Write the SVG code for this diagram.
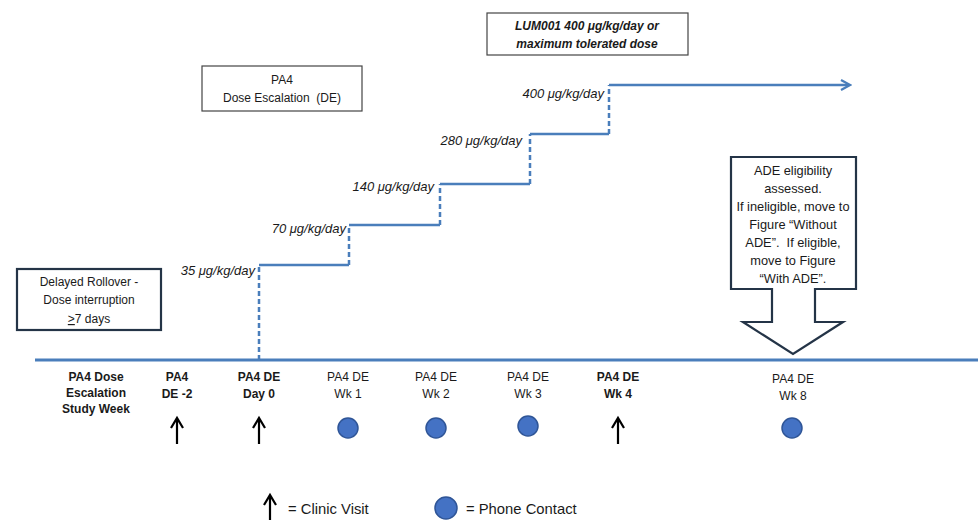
<svg xmlns="http://www.w3.org/2000/svg" width="978" height="523" viewBox="0 0 978 523">
<defs>
<style>
text{font-family:"Liberation Sans",Arial,sans-serif;fill:#1a1a1a;text-anchor:middle}
.t{font-size:12px}
.a{font-size:12.8px}
.b{font-weight:bold}
.dose{font-size:13px;font-style:italic;text-anchor:end}
.box{fill:#fff;stroke:#444;stroke-width:1.2}
.boxd{fill:#fff;stroke:#243447;stroke-width:2.2}
.step{fill:none;stroke:#4a7ebb;stroke-width:2.5}
.dash{fill:none;stroke:#4a7ebb;stroke-width:2.5;stroke-dasharray:5,3}
.dot{fill:#4472c4;stroke:#2f5597;stroke-width:1.5}
.clin{fill:none;stroke:#000;stroke-width:2.2}
.leg{font-size:14.8px;text-anchor:start}
</style>
<marker id="ah" markerWidth="12" markerHeight="12" refX="9" refY="6" orient="auto" markerUnits="userSpaceOnUse">
<path d="M1,1 L10,6 L1,11" fill="none" stroke="#4a7ebb" stroke-width="2.2"/>
</marker>
</defs>

<g id="connectors">
<line x1="35" y1="360" x2="978" y2="360" stroke="#4a7ebb" stroke-width="3"/>
<path class="dash" d="M259,360 V265"/>
<path class="step" d="M259,265 H349"/>
<path class="dash" d="M349,265 V225"/>
<path class="step" d="M349,225 H440"/>
<path class="dash" d="M440,225 V184"/>
<path class="step" d="M440,184 H530"/>
<path class="dash" d="M530,184 V134"/>
<path class="step" d="M530,134 H609"/>
<path class="dash" d="M609,134 V85"/>
<path class="step" d="M609,85 H849" marker-end="url(#ah)"/>
</g>

<g id="dose-labels">
<text class="dose" x="255" y="275">35 μg/kg/day</text>
<text class="dose" x="346" y="233">70 μg/kg/day</text>
<text class="dose" x="434" y="191">140 μg/kg/day</text>
<text class="dose" x="522" y="145">280 μg/kg/day</text>
<text class="dose" x="604" y="98">400 μg/kg/day</text>
</g>

<g id="lum-box">
<rect class="box" x="487" y="13" width="201" height="42"/>
<text class="t b" x="587" y="30" font-style="italic">LUM001 400 μg/kg/day or</text>
<text class="t b" x="587" y="48" font-style="italic">maximum tolerated dose</text>
</g>

<g id="pa4-box">
<rect class="box" x="202" y="66" width="160" height="45"/>
<text class="t" x="282" y="84">PA4</text>
<text class="t" x="282" y="102" xml:space="preserve">Dose Escalation  (DE)</text>
</g>

<g id="rollover-box">
<rect class="boxd" x="17" y="269" width="144" height="61"/>
<text class="t" x="89" y="286">Delayed Rollover -</text>
<text class="t" x="89" y="304">Dose interruption</text>
<text class="t" x="89" y="323"><tspan text-decoration="underline">&gt;</tspan>7 days</text>
</g>

<g id="ade-callout">
<path class="boxd" d="M731,157 H856 V289 H815 V322 H843 L793,354 L743,322 H772 V289 H731 Z"/>
<text class="a" x="793" y="175">ADE eligibility</text>
<text class="a" x="793" y="193">assessed.</text>
<text class="a" x="793" y="211">If ineligible, move to</text>
<text class="a" x="793" y="229">Figure “Without</text>
<text class="a" x="793" y="247" xml:space="preserve">ADE”.  If eligible,</text>
<text class="a" x="793" y="265">move to Figure</text>
<text class="a" x="793" y="283">“With ADE”.</text>
</g>

<g id="week-header">
<text class="t b" x="96" y="381">PA4 Dose</text>
<text class="t b" x="96" y="397">Escalation</text>
<text class="t b" x="96" y="413">Study Week</text>
</g>

<g id="de-2">
<text class="t b" x="177" y="381">PA4</text>
<text class="t b" x="177" y="398">DE -2</text>
<path class="clin" d="M177,444 V419 M171,428 L177,418 L183,428"/>
</g>
<g id="day0">
<text class="t b" x="259" y="381">PA4 DE</text>
<text class="t b" x="259" y="398">Day 0</text>
<path class="clin" d="M259,444 V419 M253,428 L259,418 L265,428"/>
</g>
<g id="wk1">
<text class="t" x="348" y="381">PA4 DE</text>
<text class="t" x="348" y="398">Wk 1</text>
<circle class="dot" cx="348" cy="428" r="10"/>
</g>
<g id="wk2">
<text class="t" x="436" y="381">PA4 DE</text>
<text class="t" x="436" y="398">Wk 2</text>
<circle class="dot" cx="436" cy="428" r="10"/>
</g>
<g id="wk3">
<text class="t" x="528" y="381">PA4 DE</text>
<text class="t" x="528" y="398">Wk 3</text>
<circle class="dot" cx="528" cy="426" r="10"/>
</g>
<g id="wk4">
<text class="t b" x="618" y="381">PA4 DE</text>
<text class="t b" x="618" y="398">Wk 4</text>
<path class="clin" d="M618,444 V419 M612,428 L618,418 L624,428"/>
</g>
<g id="wk8">
<text class="t" x="793" y="383">PA4 DE</text>
<text class="t" x="793" y="400">Wk 8</text>
<circle class="dot" cx="792" cy="428" r="10"/>
</g>

<g id="legend">
<path class="clin" d="M270,520 V496 M264,505 L270,495 L276,505"/>
<text class="leg" x="288" y="514">= Clinic Visit</text>
<circle class="dot" cx="446" cy="508" r="11"/>
<text class="leg" x="466" y="514">= Phone Contact</text>
</g>
</svg>
